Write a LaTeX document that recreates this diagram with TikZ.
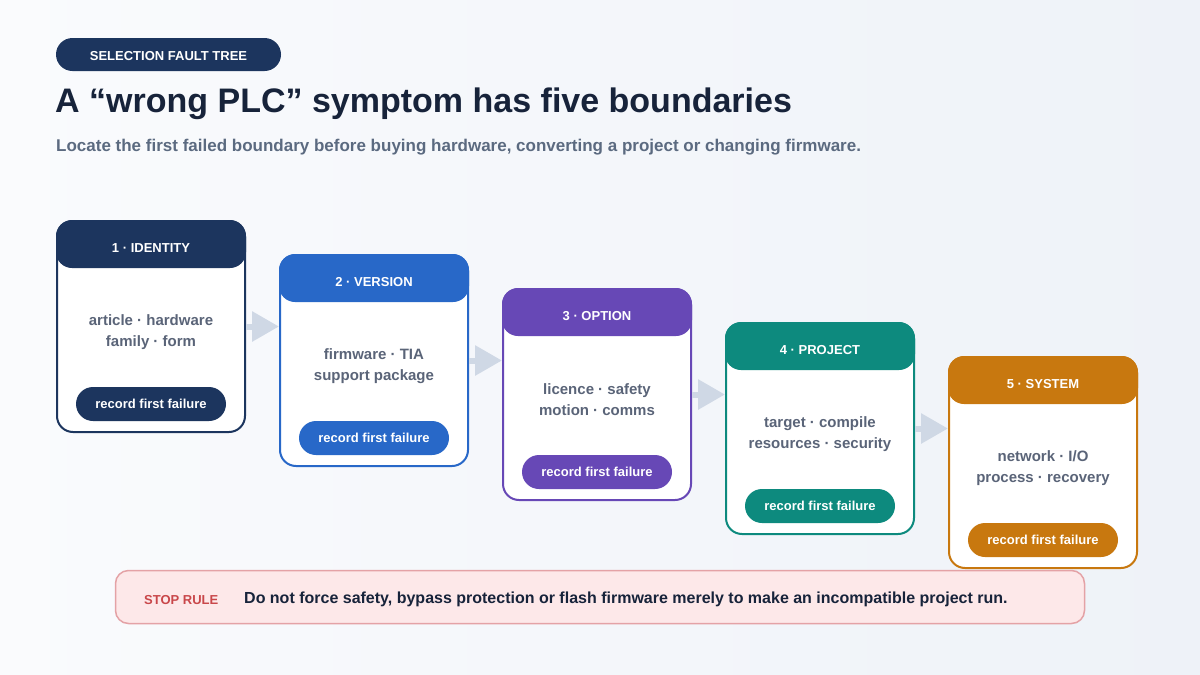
\documentclass[tikz,border=0pt]{standalone}
\usepackage{fontspec}
\setmainfont{Liberation Sans}
\usetikzlibrary{arrows.meta}
\definecolor{bgA}{HTML}{FAFBFD}
\definecolor{bgB}{HTML}{EEF2F8}
\definecolor{navy}{HTML}{1C355E}
\definecolor{ink}{HTML}{17233A}
\definecolor{sub}{HTML}{5B6A80}
\definecolor{body}{HTML}{5A6478}
\definecolor{cA}{HTML}{1C355E}
\definecolor{cB}{HTML}{2868C8}
\definecolor{cC}{HTML}{6748B6}
\definecolor{cD}{HTML}{0D8A7E}
\definecolor{cE}{HTML}{C8780F}
\definecolor{arr}{HTML}{CFD8E5}
\definecolor{stopfill}{HTML}{FDE8E9}
\definecolor{stopline}{HTML}{E4A2A6}
\definecolor{stopred}{HTML}{C9474A}
\begin{document}
\begin{tikzpicture}[x=1pt,y=-1pt,
  card/.style={draw, fill=white, line width=2pt, rounded corners=16pt, minimum width=188pt, minimum height=211pt, inner sep=0pt},
  cardhead/.style={line width=2pt, rounded corners=15pt, minimum width=188pt, minimum height=46pt, inner sep=0pt},
  headtext/.style={inner sep=0pt, text=white, font=\fontsize{13}{15}\selectfont\bfseries},
  cardbody/.style={align=center, text=body, inner sep=0pt, font=\fontsize{15}{21}\selectfont\bfseries},
  failpill/.style={rounded corners=17pt, minimum width=150pt, minimum height=34pt, inner sep=0pt, text=white, font=\fontsize{13}{15}\selectfont\bfseries},
  flow/.style={draw=arr, line width=6pt, -{Triangle[length=27pt,width=29pt]}},
  tag/.style={fill=navy, rounded corners=16.5pt, minimum width=225pt, minimum height=33pt, inner sep=0pt},
  tagtext/.style={inner sep=0pt, text=white, font=\fontsize{13}{15}\selectfont\bfseries},
  stopbox/.style={fill=stopfill, draw=stopline, line width=1.5pt, rounded corners=13pt, minimum width=969pt, minimum height=53pt, inner sep=0pt}
]
\useasboundingbox (0,0) rectangle (1200,675);
\shade[left color=bgA, right color=bgB] (0,0) rectangle (1200,675);

\node[tag] (tag) at (168.5,54.5) {};
\node[tagtext] (tagtxt) at (168.5,56.5) {SELECTION FAULT TREE};
\node[anchor=base west, inner sep=0pt, text=ink, font=\fontsize{34}{38}\selectfont\bfseries] (title) at (55,112) {A “wrong PLC” symptom has five boundaries};
\node[anchor=base west, inner sep=0pt, text=sub, font=\fontsize{17}{20}\selectfont\bfseries] (subtitle) at (56,151) {Locate the first failed boundary before buying hardware, converting a project or changing firmware.};

\foreach \i/\col/\head/\la/\lb in {
  1/cA/{1 · IDENTITY}/{article · hardware}/{family · form},
  2/cB/{2 · VERSION}/{firmware · TIA}/{support package},
  3/cC/{3 · OPTION}/{licence · safety}/{motion · comms},
  4/cD/{4 · PROJECT}/{target · compile}/{resources · security},
  5/cE/{5 · SYSTEM}/{network · I/O}/{process · recovery}} {
  \node[card, draw=\col] (c\i) at ({151+223*(\i-1)},{326.5+34*(\i-1)}) {};
  \node[cardhead, fill=\col, draw=\col, anchor=north] (h\i) at (c\i.north) {};
  \node[headtext] (t\i) at ([yshift=-28pt]c\i.north) {\head};
  \node[cardbody] (b\i) at ([yshift=-112pt]c\i.north) {\la\\\lb};
  \node[failpill, fill=\col] (p\i) at ([yshift=-184pt]c\i.north) {record first failure};
}

\foreach \i/\j in {1/2,2/3,3/4,4/5}
  \draw[flow] (c\i.east) -- (c\i.east -| c\j.west);

\node[stopbox] (stop) at (600,597) {};
\node[anchor=west, inner sep=0pt, text=stopred, font=\fontsize{13}{15}\selectfont\bfseries] (stoplabel) at (144,600) {STOP RULE};
\node[anchor=west, inner sep=0pt, text=ink, font=\fontsize{16}{19}\selectfont\bfseries] (stoptext) at (244,599.5) {Do not force safety, bypass protection or flash firmware merely to make an incompatible project run.};
\end{tikzpicture}
\end{document}
